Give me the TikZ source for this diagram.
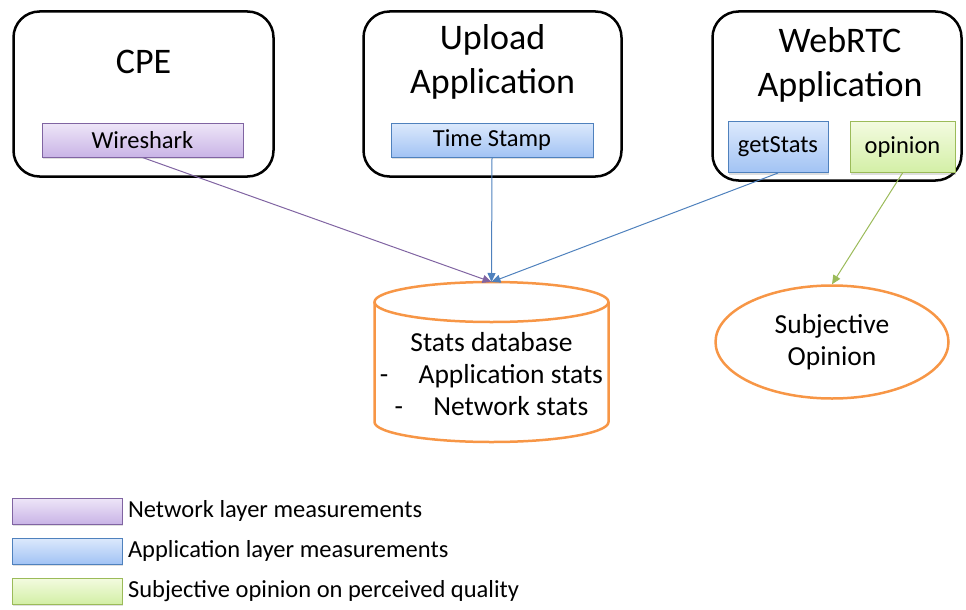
\documentclass[tikz,border=0pt]{standalone}
\usepackage{fontspec}
\setmainfont{Carlito}
\usepackage{tikz}
\usetikzlibrary{shapes.geometric}
\usetikzlibrary{arrows.meta}
\usetikzlibrary{shadows}
\usetikzlibrary{positioning}
\definecolor{netline}{HTML}{8064A2}
\definecolor{appline}{HTML}{4F81BD}
\definecolor{opline}{HTML}{9BBB59}
\definecolor{nettop}{HTML}{EEE6F8}
\definecolor{netbot}{HTML}{C9B4E6}
\definecolor{apptop}{HTML}{DCE9FC}
\definecolor{appbot}{HTML}{A2C3F4}
\definecolor{optop}{HTML}{F3FBE0}
\definecolor{opbot}{HTML}{D3EFA6}
\definecolor{dborange}{HTML}{F79646}
\tikzset{
  >={Triangle[length=9pt,width=8pt]}
}

\begin{document}
\begin{tikzpicture}[
    x=1pt, y=-1pt,
    frame/.style={draw=black, line width=2.5pt, rounded corners=26pt},
    title/.style={align=center, font=\fontsize{36}{44}\selectfont},
    meas/.style={rectangle, draw=#1line, line width=1pt, font=\fontsize{24.5}{28}\selectfont,
                 top color=#1top, bottom color=#1bot,
                 drop shadow={opacity=0.25, shadow xshift=1pt, shadow yshift=-2pt}},
    net/.style={meas=net},
    app/.style={meas=app},
    subj/.style={meas=op},
    store/.style={draw=dborange, line width=2.5pt, font=\fontsize{27.5}{32}\selectfont},
    arrow/.style={->, line width=1pt, draw=#1line, color=#1line},
    legtext/.style={anchor=west, font=\fontsize{24.5}{28}\selectfont}
]
\useasboundingbox (0,0) rectangle (966,610);

% Sources
\node[frame, minimum width=260pt, minimum height=165pt] (cpe) at (143.5,94) {};
\node[title] (cpetitle) at (143.5,62) {CPE};
\node[net, minimum width=201pt, minimum height=34pt] (wireshark) at (142.5,140) {Wireshark};

\node[frame, minimum width=258pt, minimum height=165pt] (upload) at (492.5,94) {};
\node[title] (uploadtitle) at (492.5,62) {Upload\\Application};
\node[app, minimum width=202pt, minimum height=34pt] (timestamp) at (492,140) {Time Stamp};

\node[frame, minimum width=249pt, minimum height=169pt] (webrtc) at (837,96) {};
\node[title] (webrtctitle) at (840,65) {WebRTC\\Application};
\node[app, minimum width=100pt, minimum height=51pt] (getstats) at (778,147) {getStats};
\node[subj, minimum width=105pt, minimum height=51pt] (opinion) at (902.5,147) {opinion};

% Results
\draw[store] (491.5,302) ellipse [x radius=117, y radius=20];
\draw[store] (374.5,302) -- (374.5,422) arc [start angle=180, end angle=0, x radius=117, y radius=20]
     -- (608.5,302);
\coordinate (dbtop) at (491.5,282);
\node[font=\fontsize{27.5}{32}\selectfont, align=center] (db) at (491.5,374)
     {Stats database\\-\hspace{1.1em}Application stats\\-\hspace{1.1em}Network stats};
\node[store, ellipse, minimum width=233pt, minimum height=113pt, align=center] (subjop) at (832,342)
     {Subjective\\Opinion};

% Arrows
\draw[arrow=net] (wireshark.south) -- (dbtop);
\draw[arrow=app] (timestamp.south) -- (dbtop);
\draw[arrow=app] (getstats.south) -- (dbtop);
\draw[arrow=op] (opinion.south) -- (subjop.north);

% Legend
\node[net, minimum width=110pt, minimum height=26pt] (netkey) at (67,511) {};
\node[app, minimum width=110pt, minimum height=26pt] (appkey) at (67,551) {};
\node[subj, minimum width=110pt, minimum height=26pt] (subjkey) at (67,591) {};
\node[legtext, right=2pt of netkey] (nettext) {Network layer measurements};
\node[legtext, right=2pt of appkey] (apptext) {Application layer measurements};
\node[legtext, right=2pt of subjkey] (subjtext) {Subjective opinion on perceived quality};

\end{tikzpicture}
\end{document}
